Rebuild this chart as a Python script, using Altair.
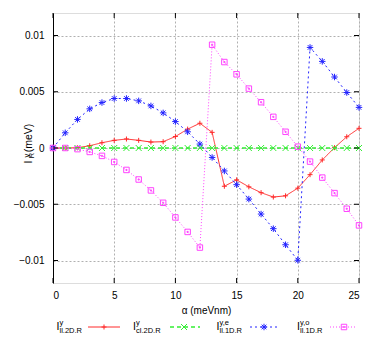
import altair as alt
import pandas as pd

alpha = list(range(26))
red = [0, 0, 0.00002, 0.0002, 0.00047, 0.00068, 0.0008, 0.00068, 0.00053, 0.00056,
       0.00102, 0.00168, 0.0022, 0.00139, -0.0034, -0.00283, -0.00345, -0.00397,
       -0.00436, -0.00425, -0.00357, -0.00237, -0.00106, 0.00003, 0.001, 0.00175]
green = [0.0] * 26
blue = [0, 0.00135, 0.00254, 0.00348, 0.00404, 0.0044, 0.0044, 0.00419, 0.00374, 0.00312,
        0.00235, 0.00144, 0.00035, -0.00084, -0.00204, -0.00326, -0.00454, -0.00587,
        -0.00717, -0.0086, -0.00998, 0.00894, 0.0077, 0.00631, 0.00493, 0.00361]
magenta = [0, 0, -0.0001, -0.00035, -0.0007, -0.00124, -0.00195, -0.0028, -0.00377, -0.00487,
           -0.00617, -0.00746, -0.00885, 0.00918, 0.00764, 0.00655, 0.00528, 0.00407,
           0.00277, 0.00144, 0.00012, -0.00121, -0.00263, -0.00401, -0.0054, -0.00688]

x_ticks = [0, 5, 10, 15, 20, 25]
y_ticks = [-0.01, -0.005, 0, 0.005, 0.01]

leg_sup = ["y", "y", "y,e", "y,o"]
leg_sub = ["ll,2D,R", "cl,2D,R", "ll,1D,R", "ll,1D,R"]

W, H = 306, 270
FONT = "Liberation Sans"

series = [
    ("red", red, "#ff2a2a", [1, 0], "M-1,0L1,0M0,-1L0,1", 25, 1.0),
    ("green", green, "#33ee33", [4, 3], "M-1,-1L1,1M-1,1L1,-1", 36, 1.4),
    ("blue", blue, "#2222ff", [2, 3], "M-1,0L1,0M0,-1L0,1M-0.72,-0.72L0.72,0.72M-0.72,0.72L0.72,-0.72", 42, 1.0),
    ("magenta", magenta, "#ff44ff", [1, 2], "M-1,-1L1,-1L1,1L-1,1ZM-0.2,-0.2L0.2,-0.2L0.2,0.2L-0.2,0.2Z", 30, 1.0),
]

xscale = alt.Scale(domain=[0, 25], nice=False, zero=False)
yscale = alt.Scale(domain=[-0.012, 0.012], nice=False, zero=False)

label_expr = "datum.value == 0 ? '0' : (abs(datum.value) < 0.0075 ? format(datum.value, '.3f') : format(datum.value, '.2f'))"

xaxis = alt.Axis(values=x_ticks, ticks=False, domain=False, grid=True, gridDash=[2, 2],
                 gridColor="#b0b0b0", labelFont=FONT, labelFontSize=10, labelColor="black",
                 labelPadding=7, title="α (meVnm)", titleFont=FONT, titleFontSize=10,
                 titleFontWeight="normal", titleColor="black", titlePadding=5, format="d")
yaxis = alt.Axis(values=y_ticks, ticks=False, domain=True, domainColor="black", domainWidth=1,
                 grid=True, gridDash=[2, 2], gridColor="#b0b0b0", labelFont=FONT,
                 labelFontSize=10, labelColor="black", labelPadding=9, labelExpr=label_expr,
                 title=None)

layers = []

for name, vals, col, dash, path, size, sw in series:
    df = pd.DataFrame({"alpha": alpha, "val": vals})
    xe = alt.X("alpha:Q", scale=xscale, axis=xaxis)
    ye = alt.Y("val:Q", scale=yscale, axis=yaxis)
    base = alt.Chart(df)
    layers.append(base.mark_line(color=col, strokeWidth=sw, strokeDash=dash).encode(x=xe, y=ye))
    layers.append(base.mark_point(shape=path, filled=False, stroke=col, strokeWidth=1,
                                  size=size, opacity=1).encode(x=xe, y=ye))

# inward ticks
xt = pd.DataFrame({"alpha": x_ticks})
yt = pd.DataFrame({"val": y_ticks})
for (a, b) in [(0, 5), (H - 5, H)]:
    layers.append(alt.Chart(xt).mark_rule(color="black", strokeWidth=1).encode(
        x=alt.X("alpha:Q", scale=xscale, axis=xaxis), y=alt.value(a), y2=alt.value(b)))
for (a, b) in [(0, 5), (W - 5, W)]:
    layers.append(alt.Chart(yt).mark_rule(color="black", strokeWidth=1).encode(
        y=alt.Y("val:Q", scale=yscale, axis=yaxis), x=alt.value(a), x2=alt.value(b)))


def txt(s, x, y, size, angle=0, align="left"):
    d = pd.DataFrame({"t": [s]})
    return alt.Chart(d).mark_text(font=FONT, fontSize=size, color="black",
                                  align=align, baseline="alphabetic", angle=angle).encode(
        text="t:N", x=alt.value(x), y=alt.value(y))


# y-axis title  I^y_R (meV), rotated
layers.append(txt("I", -21.5, 149, 10.5, angle=270, align="center"))
layers.append(txt("y", -24.5, 142.5, 7.5, angle=270, align="center"))
layers.append(txt("R", -19.5, 142.5, 7.5, angle=270, align="center"))
layers.append(txt("(meV)", -21.5, 125, 10.5, angle=270, align="center"))

one = pd.DataFrame({"d": [0]})

# legend
I_x = [3.5, 80, 163.5, 244]
line_x = [(35, 67), (117, 147), (197, 224), (277, 304)]
mark_x = [51, 131, 211, 291]
LY = 314
for i, (name, vals, col, dash, path, size, sw) in enumerate(series):
    layers.append(txt("I", I_x[i], 317, 10.5))
    layers.append(txt(leg_sup[i], I_x[i] + 3, 311.5, 7.5))
    layers.append(txt(leg_sub[i], I_x[i] + 3, 319.5, 7.5))
    layers.append(alt.Chart(one).mark_rule(color=col, strokeWidth=sw, strokeDash=dash).encode(
        x=alt.value(line_x[i][0]), x2=alt.value(line_x[i][1]), y=alt.value(LY)))
    layers.append(alt.Chart(one).mark_point(shape=path, filled=False, stroke=col, strokeWidth=1,
                                            size=size, opacity=1).encode(
        x=alt.value(mark_x[i]), y=alt.value(LY)))

chart = alt.layer(*layers).properties(
    width=W, height=H,
    autosize=alt.AutoSizeParams(type="none"),
    padding={"left": 45, "top": 5, "right": 11, "bottom": 50},
).configure_view(stroke="#888888", strokeWidth=2).configure(background="white")

chart.save("out.html", embed_options={"renderer": "svg", "actions": False})
